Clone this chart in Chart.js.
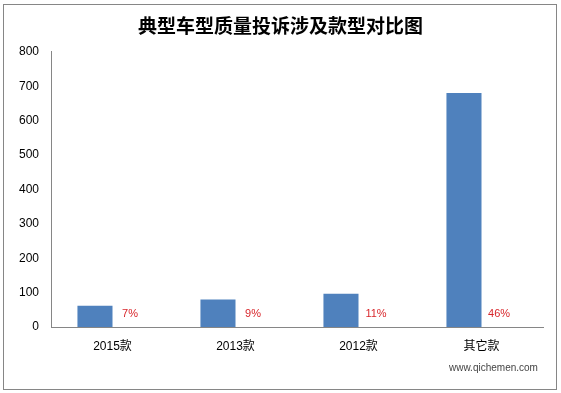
<!DOCTYPE html>
<html>
<head>
<meta charset="utf-8">
<script src="https://cdn.jsdelivr.net/npm/chart.js@4/dist/chart.umd.min.js"></script>
<style>
  html, body { margin: 0; padding: 0; background: #fff; }
  #wrap { position: relative; width: 561px; height: 393px; }
  #mark { position: absolute; left: 449px; top: 362px; font: 10px "Liberation Sans", Arial, sans-serif; color: #444; }
</style>
</head>
<body>
<div id="wrap">
  <canvas id="c" width="561" height="393"></canvas>
  <div id="mark">www.qichemen.com</div>
</div>
<script>
var categories = ['2015款', '2013款', '2012款', '其它款'];
var complaints = [62, 80, 97, 680];
var shares = ['7%', '9%', '11%', '46%'];
var yTicks = [0, 100, 200, 300, 400, 500, 600, 700, 800];

var cjk = '"Liberation Sans", Arial, "Noto Sans CJK SC", sans-serif';

// frame + red share labels next to each bar
var extras = {
  id: 'extras',
  beforeDraw: function(chart) {
    var ctx = chart.ctx;
    ctx.save();
    ctx.fillStyle = '#fff';
    ctx.fillRect(0, 0, chart.width, chart.height);
    ctx.strokeStyle = '#868686';
    ctx.lineWidth = 1;
    ctx.strokeRect(3.5, 4.5, 553, 385);
    ctx.restore();
  },
  afterDatasetsDraw: function(chart) {
    var ctx = chart.ctx;
    var meta = chart.getDatasetMeta(1);
    var y0 = chart.scales.y.getPixelForValue(0);
    ctx.save();
    ctx.fillStyle = '#d8262b';
    ctx.font = '11px ' + cjk;
    ctx.textAlign = 'center';
    ctx.textBaseline = 'middle';
    meta.data.forEach(function(bar, i) {
      ctx.fillText(shares[i], bar.x, y0 - 13);
    });
    ctx.restore();
  }
};

new Chart(document.getElementById('c'), {
  type: 'bar',
  data: {
    labels: categories,
    datasets: [
      {
        label: '投诉量',
        data: complaints,
        backgroundColor: '#4f81bd',
        borderWidth: 0,
        categoryPercentage: 0.57,
        barPercentage: 1
      },
      {
        label: '占比',
        data: complaints.map(function() { return 0; }),
        backgroundColor: 'rgba(0,0,0,0)',
        borderWidth: 0,
        categoryPercentage: 0.57,
        barPercentage: 1
      }
    ]
  },
  options: {
    responsive: false,
    animation: false,
    events: [],
    layout: { padding: { left: 18, right: 18, top: 0, bottom: 0 } },
    plugins: {
      legend: { display: false },
      tooltip: { enabled: false },
      title: {
        display: true,
        text: '典型车型质量投诉涉及款型对比图',
        color: '#000',
        font: { family: '"Noto Sans CJK SC", sans-serif', size: 19, weight: 'bold' },
        padding: { top: 14, bottom: 15 }
      }
    },
    scales: {
      x: {
        grid: { display: false, drawTicks: false },
        border: { color: '#868686' },
        ticks: { color: '#000', font: { family: cjk, size: 12 }, padding: 12 },
        afterFit: function(s) { s.height = 66; }
      },
      y: {
        min: 0,
        max: 800,
        afterBuildTicks: function(s) { s.ticks = yTicks.map(function(v) { return { value: v }; }); },
        grid: { display: false, drawTicks: false },
        border: { color: '#868686' },
        ticks: { color: '#000', font: { family: cjk, size: 12 }, padding: 12 },
        afterFit: function(s) { s.width = 33; }
      }
    }
  },
  plugins: [extras]
});
</script>
</body>
</html>
